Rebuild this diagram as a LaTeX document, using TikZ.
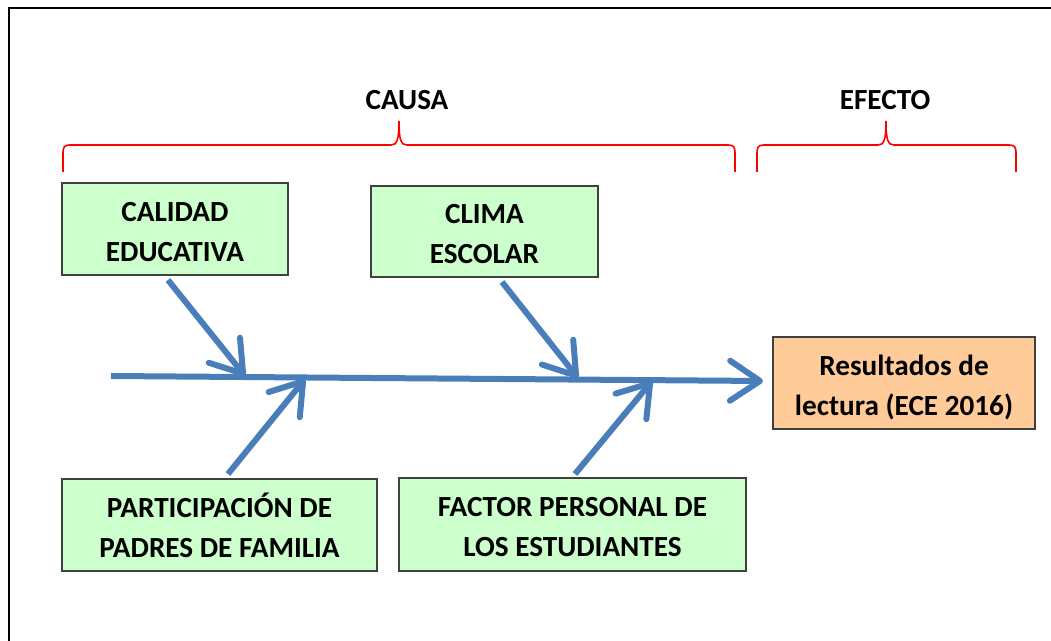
\documentclass[tikz,border=0pt]{standalone}
\usepackage{fontspec}
\setmainfont{Carlito}
\usetikzlibrary{arrows.meta}
\definecolor{fishblue}{HTML}{4A7EBB}
\definecolor{causegreen}{HTML}{CCFFCC}
\definecolor{effectorange}{HTML}{FFCC99}
\tikzset{
  causebox/.style={draw=black!75,line width=0.75pt,fill=causegreen,align=center,
    inner sep=0pt,font=\bfseries\fontsize{14.6}{20}\selectfont,
    text height=32.5pt,text depth=0pt},
  effectbox/.style={causebox,fill=effectorange},
  title/.style={font=\bfseries\fontsize{14.6}{16}\selectfont},
  bone/.style={draw=fishblue,line width=3pt,-{Straight Barb[length=15pt,width=20pt,round]}},
  curly/.style={draw=red,line width=0.8pt},
}
\begin{document}
\begin{tikzpicture}[x=0.5pt,y=-0.5pt]
  \useasboundingbox (0,0) rectangle (1051,641);
  \draw[line width=1pt] (9,8) rectangle (1100,700);
  %% Titles and braces
  \node[title] (causa) at (407,100) {CAUSA};
  \node[title] (efecto) at (885,100) {EFECTO};
  \draw[curly] (63,172) -- (63,154) .. controls (63,147) and (64,145) .. (70,145)
    -- (391,145) .. controls (397,145) and (399,140) .. (399,121)
    .. controls (399,140) and (401,145) .. (407,145) -- (728,145)
    .. controls (734,145) and (735,147) .. (735,154) -- (735,172);
  \draw[curly] (757,172) -- (757,154) .. controls (757,147) and (758,145) .. (764,145)
    -- (878,145) .. controls (884,145) and (886,140) .. (886,121)
    .. controls (886,140) and (888,145) .. (894,145) -- (1009,145)
    .. controls (1015,145) and (1016,147) .. (1016,154) -- (1016,172);
  %% Boxes
  \node[causebox,minimum width=113pt,minimum height=46pt] (calidad) at (175,229) {CALIDAD\\EDUCATIVA};
  \node[causebox,minimum width=113.5pt,minimum height=45.5pt] (clima) at (484.5,231.5) {CLIMA\\ESCOLAR};
  \node[causebox,minimum width=157.5pt,minimum height=46pt] (padres) at (219.5,525) {PARTICIPACIÓN DE\\PADRES DE FAMILIA};
  \node[causebox,minimum width=173.5pt,minimum height=46.5pt] (factor) at (572.5,524.5) {FACTOR PERSONAL DE\\LOS ESTUDIANTES};
  \node[effectbox,minimum width=131pt,minimum height=46pt] (result) at (904,383) {Resultados de\\lectura (ECE 2016)};
  %% Spine
  \coordinate (tail) at (111,376);
  \coordinate (head) at (763,381);
  \draw[bone] (tail) -- (head);
  %% Bones
  \coordinate (b1) at (168,280); \coordinate (j1) at (245,376);
  \coordinate (b2) at (502,282); \coordinate (j2) at (578,378);
  \coordinate (b3) at (228,474); \coordinate (j3) at (305,379);
  \coordinate (b4) at (575,474); \coordinate (j4) at (652,381);
  \draw[bone] (b1) -- (j1);
  \draw[bone] (b2) -- (j2);
  \draw[bone] (b3) -- (j3);
  \draw[bone] (b4) -- (j4);
\end{tikzpicture}
\end{document}
